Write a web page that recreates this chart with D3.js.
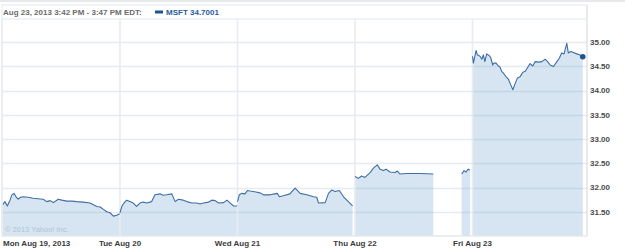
<!DOCTYPE html>
<html>
<head>
<meta charset="utf-8">
<script src="https://cdn.jsdelivr.net/npm/d3@7"></script>
<style>
  html, body { margin: 0; padding: 0; background: #fff; }
  svg { display: block; }
  text { font-family: "Liberation Sans", Arial, sans-serif; }
</style>
</head>
<body>
<svg id="chart" width="625" height="249"></svg>
<script>
// ---- data (minutes after 9:30 open, price) ----
const dayLabels = ["Mon Aug 19, 2013", "Tue Aug 20", "Wed Aug 21", "Thu Aug 22", "Fri Aug 23"];
const yTicks = [31.5, 32, 32.5, 33, 33.5, 34, 34.5, 35];
const legendTime = "Aug 23, 2013 3:42 PM - 3:47 PM EDT:";
const legendSeries = "MSFT 34.7001";
const copyright = "\u00A9 2013 Yahoo! Inc.";

const mon = [[0,31.64],[8,31.71],[16,31.62],[25,31.74],[31,31.85],[38,31.88],[45,31.81],[52,31.76],[60,31.80],[69,31.81],[85,31.80],[102,31.78],[118,31.77],[135,31.76],[147,31.71],[158,31.73],[169,31.69],[185,31.76],[197,31.74],[213,31.72],[231,31.72],[246,31.71],[268,31.70],[290,31.68],[300,31.65],[313,31.61],[324,31.60],[335,31.55],[346,31.50],[357,31.48],[368,31.41],[379,31.43],[389,31.46]];
const tue = [[0,31.48],[6,31.61],[13,31.68],[22,31.74],[33,31.71],[44,31.68],[55,31.61],[66,31.68],[77,31.70],[89,31.68],[105,31.71],[116,31.85],[133,31.87],[143,31.84],[155,31.85],[172,31.87],[183,31.71],[194,31.76],[210,31.74],[222,31.71],[238,31.68],[255,31.68],[266,31.66],[277,31.68],[294,31.70],[305,31.74],[316,31.73],[327,31.68],[344,31.69],[355,31.74],[366,31.68],[377,31.62],[389,31.62]];
const wed = [[0,31.71],[6,31.85],[14,31.88],[25,31.87],[33,31.94],[41,31.93],[52,31.92],[61,31.91],[75,31.89],[86,31.85],[108,31.85],[124,31.87],[132,31.88],[139,31.81],[152,31.83],[174,31.87],[191,31.99],[197,31.95],[208,31.88],[230,31.85],[252,31.81],[263,31.80],[269,31.68],[291,31.69],[302,31.88],[313,31.95],[324,31.92],[338,31.94],[352,31.81],[368,31.71],[382,31.62]];
const thu = [[0,32.23],[11,32.19],[22,32.24],[33,32.21],[50,32.31],[61,32.40],[74,32.47],[83,32.38],[94,32.35],[103,32.38],[116,32.32],[133,32.31],[141,32.34],[149,32.28],[171,32.29],[216,32.29],[260,32.28],[300,null],[354,32.28],[362,32.35],[368,32.32],[376,32.38],[382,32.36]];
const fri = [[0,34.71],[3,34.57],[12,34.83],[16,34.74],[25,34.71],[31,34.65],[36,34.74],[41,34.60],[47,34.76],[56,34.72],[60,34.69],[67,34.53],[71,34.57],[78,34.57],[86,34.51],[91,34.49],[97,34.40],[104,34.35],[111,34.29],[119,34.24],[127,34.12],[134,34.02],[141,34.14],[149,34.26],[158,34.29],[167,34.38],[175,34.40],[182,34.47],[191,34.56],[200,34.51],[208,34.60],[219,34.59],[230,34.60],[241,34.65],[249,34.60],[258,34.53],[269,34.50],[280,34.60],[288,34.67],[296,34.78],[304,34.76],[313,34.98],[318,34.78],[326,34.81],[335,34.79],[346,34.76],[355,34.74],[366,34.70]];
const sessions = [mon, tue, wed, thu, fri];
const SESSION_MIN = 390;

// ---- layout ----
const svg = d3.select("#chart");
const plot = { left: 2.5, right: 587, top: 19, bottom: 236 };

const x = d3.scaleLinear().domain([0, SESSION_MIN * 5]).range([2.5, 590]);
const y = d3.scaleLinear().domain([31.0, 35.48]).range([236, 19]);

// outer top rule
svg.append("line").attr("x1", 0).attr("x2", 625).attr("y1", 1).attr("y2", 1)
  .attr("stroke", "#d2d2d2").attr("stroke-width", 1.2);

// frame
svg.append("rect").attr("x", 2).attr("y", 5).attr("width", plot.right - 2).attr("height", plot.bottom - 5)
  .attr("fill", "#fff").attr("stroke", "#e4e9ed").attr("stroke-width", 1);
svg.append("line").attr("x1", 2).attr("x2", plot.right).attr("y1", plot.top).attr("y2", plot.top)
  .attr("stroke", "#e4e9ed").attr("stroke-width", 1.2);

svg.append("clipPath").attr("id", "clip").append("rect")
  .attr("x", plot.left).attr("y", plot.top).attr("width", plot.right - plot.left).attr("height", plot.bottom - plot.top);

const g = svg.append("g").attr("clip-path", "url(#clip)");

const flat = (arr, i) => arr.map(d => ({ t: i * SESSION_MIN + d[0], v: d[1] }));

const area = d3.area().defined(d => d.v != null)
  .x(d => x(d.t)).y0(y(31.0)).y1(d => y(d.v));
const line = d3.line().defined(d => d.v != null)
  .x(d => x(d.t)).y(d => y(d.v));

sessions.forEach((s, i) => {
  g.append("path").datum(flat(s, i)).attr("d", area).attr("fill", "#d6e5f1");
});

// horizontal grid
g.selectAll(".hg").data(yTicks).enter().append("line")
  .attr("x1", plot.left).attr("x2", plot.right)
  .attr("y1", d => Math.round(y(d)) + 0.5).attr("y2", d => Math.round(y(d)) + 0.5)
  .attr("stroke", "rgba(140,165,185,0.22)").attr("stroke-width", 1.3);

// vertical grid (day boundaries)
g.selectAll(".vg").data(dayLabels.slice(1)).enter().append("line")
  .attr("x1", (d, i) => x((i + 1) * SESSION_MIN)).attr("x2", (d, i) => x((i + 1) * SESSION_MIN))
  .attr("y1", plot.top).attr("y2", plot.bottom)
  .attr("stroke", "#e6ecf0").attr("stroke-width", 1.6);

sessions.forEach((s, i) => {
  g.append("path").datum(flat(s, i)).attr("d", line)
    .attr("fill", "none").attr("stroke", "#3e6ea4").attr("stroke-width", 1.1)
    .attr("stroke-linejoin", "round");
});

// right border & bottom
svg.append("line").attr("x1", plot.right).attr("x2", plot.right).attr("y1", 5).attr("y2", plot.bottom)
  .attr("stroke", "#dfe5ea").attr("stroke-width", 1.2);
svg.append("line").attr("x1", 2).attr("x2", plot.right).attr("y1", plot.bottom).attr("y2", plot.bottom)
  .attr("stroke", "#e4e9ed").attr("stroke-width", 1);
svg.append("line").attr("x1", 2).attr("x2", 2).attr("y1", plot.top).attr("y2", plot.bottom)
  .attr("stroke", "#e4e9ed").attr("stroke-width", 1);

// end dot
const last = fri[fri.length - 1];
svg.append("circle").attr("cx", x(4 * SESSION_MIN + last[0])).attr("cy", y(last[1]))
  .attr("r", 2.8).attr("fill", "#1d5592");

// y axis labels
svg.selectAll(".yl").data(yTicks).enter().append("text")
  .attr("x", 590).attr("y", d => y(d)).attr("dy", "0.35em")
  .attr("font-size", 8).attr("font-weight", "bold").attr("fill", "#4a4a4a")
  .text(d => d.toFixed(2));

// x axis labels
svg.selectAll(".xl").data(dayLabels).enter().append("text")
  .attr("x", (d, i) => i === 0 ? 3 : x(i * SESSION_MIN))
  .attr("y", 246)
  .attr("text-anchor", (d, i) => i === 0 ? "start" : "middle")
  .attr("font-size", 8).attr("font-weight", "bold").attr("fill", "#3a3a3a")
  .text(d => d);

// copyright
svg.append("text").attr("x", 5).attr("y", 232).attr("font-size", 7.5)
  .attr("fill", "#b4c3ce").text(copyright);

// legend
svg.append("text").attr("x", 3).attr("y", 15).attr("font-size", 8).attr("font-weight", "bold")
  .attr("fill", "#6b6b6b").text(legendTime);
svg.append("rect").attr("x", 155).attr("y", 10.5).attr("width", 8).attr("height", 3).attr("fill", "#1d5592");
svg.append("text").attr("x", 166).attr("y", 15).attr("font-size", 8).attr("font-weight", "bold")
  .attr("fill", "#2a5c9c").text(legendSeries);
</script>
</body>
</html>
